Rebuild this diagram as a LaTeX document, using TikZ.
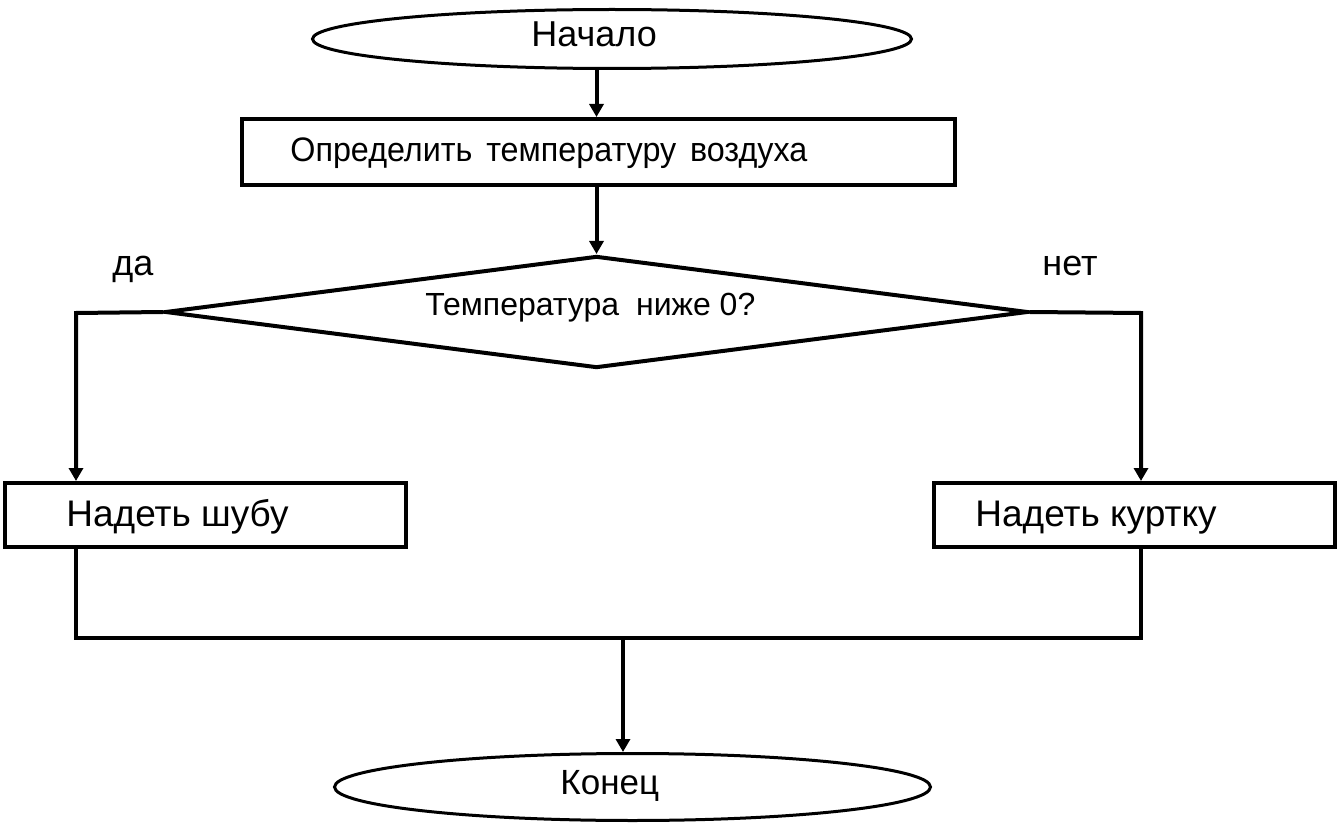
\documentclass[tikz,border=0pt]{standalone}
\usepackage{fontspec}
\setmainfont{Liberation Sans}
\usetikzlibrary{shapes.geometric,arrows.meta}
\tikzset{
  term/.style={draw, ellipse, line width=1.5pt, inner sep=0pt},
  procbox/.style={draw, rectangle, line width=2pt, inner sep=0pt},
  decision/.style={draw, diamond, line width=2pt, inner sep=0pt, aspect=7.7},
  conn/.style={line width=2pt},
  arr/.style={line width=2pt, -{Triangle[width=7pt,length=6.5pt]}},
  txt/.style={inner sep=0pt, anchor=base west},
  lbl/.style={inner sep=0pt, anchor=base, font=\fontsize{18}{20}\selectfont}
}
\begin{document}
\begin{tikzpicture}[x=0.5pt,y=-0.5pt]
\useasboundingbox (0,0) rectangle (1340,829);
% shapes
\node[term, minimum width=299.5pt, minimum height=29.5pt] (start) at (612,39) {};
\node[procbox, minimum width=356.5pt, minimum height=33pt] (r1) at (598.5,152) {};
\node[decision, minimum width=431.5pt, minimum height=56pt] (dia) at (596.5,312) {};
\node[procbox, minimum width=200.5pt, minimum height=32pt] (shuba) at (205.5,515) {};
\node[procbox, minimum width=200.5pt, minimum height=32pt] (kurtka) at (1134.5,515) {};
\node[term, minimum width=298pt, minimum height=33.5pt] (end) at (632.5,787) {};
% texts
\node[txt, font=\fontsize{18}{20}\selectfont] (starttxt) at (531,47) {Начало};
\node[txt, font=\fontsize{17}{19}\selectfont] (r1txt) at (290,162) {\scalebox{0.95}[1]{Определить\hspace{0.15em} температуру\hspace{0.15em} воздуха}};
\node[txt, font=\fontsize{16}{18}\selectfont] (diatxt) at (425,315.5) {Температура\hspace{0.25em} ниже 0?};
\node[txt, font=\fontsize{18.5}{20}\selectfont] (shubatxt) at (66,526) {Надеть шубу};
\node[txt, font=\fontsize{18.5}{20}\selectfont] (kurtkatxt) at (975,526) {Надеть куртку};
\node[txt, font=\fontsize{17.5}{19}\selectfont] (endtxt) at (560,794) {Конец};
\node[lbl] (yes) at (133,275) {да};
\node[lbl] (no) at (1070,275) {нет};
% connectors
\coordinate (lt) at (76,313);
\coordinate (rt) at (1141,313);
\coordinate (lb) at (76,638);
\coordinate (rb) at (1141,638);
\coordinate (mid) at (623,638);
\draw[arr] (dia.north |- start.south) -- (dia.north |- r1.north);
\draw[arr] (dia.north |- r1.south) -- (dia.north);
\draw[arr] (dia.west) -- (lt) -- (lt |- shuba.north);
\draw[arr] (dia.east) -- (rt) -- (rt |- kurtka.north);
\draw[conn] (lt |- shuba.south) -- (lb) -- (rb) -- (rt |- kurtka.south);
\draw[arr] (mid) -- (mid |- end.north);
\end{tikzpicture}
\end{document}
